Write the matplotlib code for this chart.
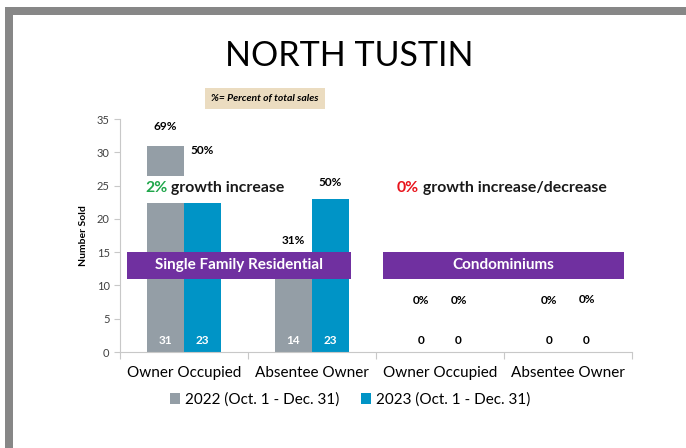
import matplotlib
matplotlib.use("Agg")
import matplotlib.pyplot as plt
from matplotlib.patches import Rectangle, Patch
import numpy as np

plt.rcParams["font.family"] = ["Lato", "DejaVu Sans"]

categories = ["Owner Occupied", "Absentee Owner", "Owner Occupied", "Absentee Owner"]
sold_2022 = [31, 14, 0, 0]
sold_2023 = [23, 23, 0, 0]
pct_2022 = ["69%", "31%", "0%", "0%"]
pct_2023 = ["50%", "50%", "0%", "0%"]
# heights of the percent labels (placed by hand around the banners)
pct_y_2022 = [33.8, 16.8, 7.8, 7.8]
pct_y_2023 = [30.3, 25.4, 7.8, 7.9]
series_names = ["2022 (Oct. 1 - Dec. 31)", "2023 (Oct. 1 - Dec. 31)"]
segments = ["Single Family Residential", "Condominiums"]

GRAY = "#949ea6"
BLUE = "#0094c6"
PURPLE = "#7030a0"

W, H = 686, 448
fig = plt.figure(figsize=(W / 100, H / 100), dpi=100)
fig.patch.set_facecolor("white")

# slide frame
fig.patches.append(Rectangle((5 / W, 0), 8 / W, 1 - 7 / H, transform=fig.transFigure,
                             facecolor="#878787", edgecolor="none"))
fig.patches.append(Rectangle((5 / W, 1 - 15 / H), 1, 8 / H, transform=fig.transFigure,
                             facecolor="#878787", edgecolor="none"))

ax = fig.add_axes([120 / W, 96 / H, 512 / W, 233 / H])
x = np.arange(len(categories))
bw = 0.29
ax.bar(x - bw / 2, sold_2022, bw, color=GRAY, zorder=2)
ax.bar(x + bw / 2, sold_2023, bw, color=BLUE, zorder=2)

ax.set_xlim(-0.5, 3.5)
ax.set_ylim(0, 35)
ax.set_yticks(range(0, 36, 5))
ax.tick_params(axis="y", labelsize=8, colors="#404040", length=4, color="#c8c8c8")
ax.set_xticks(np.arange(-0.5, 3.6, 1))
ax.set_xticklabels([])
ax.tick_params(axis="x", length=5, color="#c8c8c8")
for s in ["top", "right"]:
    ax.spines[s].set_visible(False)
ax.spines["left"].set_color("#c8c8c8")
ax.spines["bottom"].set_color("#c8c8c8")
ax.set_ylabel("Number Sold", fontsize=7.5, fontweight="bold", labelpad=6)

for i, c in enumerate(categories):
    ax.text(x[i], -0.06, c, transform=ax.get_xaxis_transform(), ha="center",
            va="top", fontsize=11)

# values inside / under the bars
for i in range(len(categories)):
    col2022 = "white" if sold_2022[i] else "black"
    col2023 = "white" if sold_2023[i] else "black"
    ax.text(x[i] - bw / 2, 1.7, str(sold_2022[i]), ha="center", va="center",
            fontsize=8.5, fontweight="bold", color=col2022, zorder=5)
    ax.text(x[i] + bw / 2, 1.7, str(sold_2023[i]), ha="center", va="center",
            fontsize=8.5, fontweight="bold", color=col2023, zorder=5)
    ax.text(x[i] - bw / 2, pct_y_2022[i], pct_2022[i], ha="center", va="center",
            fontsize=8.5, fontweight="bold", zorder=5)
    ax.text(x[i] + bw / 2, pct_y_2023[i], pct_2023[i], ha="center", va="center",
            fontsize=8.5, fontweight="bold", zorder=5)

# growth notes with white backdrop
ax.add_patch(Rectangle((-0.33, 22.4), 0.9, 4.1, facecolor="white", edgecolor="none", zorder=3))
t = ax.text(-0.305, 24.6, "2%", color="#1fa64a", fontsize=11.4, fontweight="bold",
            va="center", ha="left", zorder=4)
ax.annotate(" growth increase", xy=(1, 0.5), xycoords=t, va="center", ha="left",
            fontsize=11.4, fontweight="bold", color="#1a1a1a", zorder=4)
t2 = ax.text(1.66, 24.6, "0%", color="#e8141c", fontsize=11.4, fontweight="bold",
             va="center", ha="left", zorder=4)
ax.annotate(" growth increase/decrease", xy=(1, 0.5), xycoords=t2, va="center",
            ha="left", fontsize=11.4, fontweight="bold", color="#1a1a1a", zorder=4)

# segment banners
banners = [(-0.445, 1.305), (1.555, 3.44)]
for (x0, x1), name in zip(banners, segments):
    ax.add_patch(Rectangle((x0, 11), x1 - x0, 4, facecolor=PURPLE, edgecolor="none",
                           zorder=6, clip_on=False))
    ax.text((x0 + x1) / 2, 13, name, color="white", fontsize=11, fontweight="bold",
            ha="center", va="center", zorder=7)

fig.text(349 / W, 1 - 56 / H, "NORTH TUSTIN", ha="center", va="center", fontsize=24.5)
fig.patches.append(Rectangle((205 / W, 1 - 109 / H), 120 / W, 21 / H,
                             transform=fig.transFigure, facecolor="#ebdcc0",
                             edgecolor="none"))
fig.text(265 / W, 1 - 98.5 / H, "%= Percent of total sales", ha="center", va="center",
         fontsize=7.5, fontweight="bold", style="italic")

handles = [Patch(facecolor=GRAY), Patch(facecolor=BLUE)]
fig.legend(handles, series_names, loc="center", bbox_to_anchor=(350 / W, 1 - 400 / H),
           ncol=2, frameon=False, fontsize=11, handlelength=0.7, handleheight=0.7,
           handletextpad=0.3, columnspacing=1.4)

fig.savefig("out.png", dpi=100)
